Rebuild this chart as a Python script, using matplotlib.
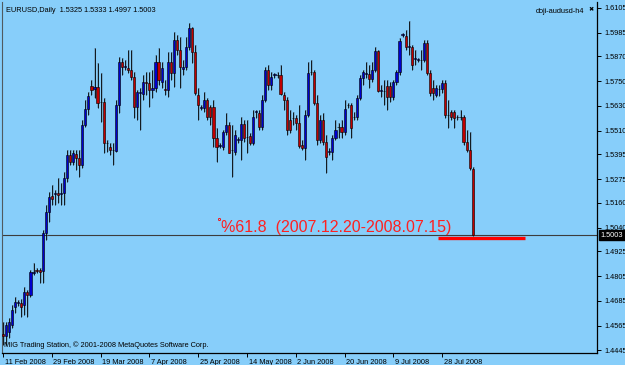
import matplotlib
matplotlib.use("Agg")
import matplotlib.pyplot as plt
import matplotlib.transforms as mtrans
import numpy as np

# daily EURUSD bars, 11 Feb 2008 .. 8 Aug 2008 (broker feed with Sunday bars)
opens = [
    1.4525, 1.4515, 1.4534, 1.4568, 1.4655, 1.4674, 1.4674, 1.4665, 1.4728, 1.4714,
    1.4820, 1.4835, 1.4835, 1.4830, 1.5014, 1.5116, 1.5193, 1.5203, 1.5208, 1.5203,
    1.5208, 1.5281, 1.5392, 1.5358, 1.5397, 1.5378, 1.5344, 1.5538, 1.5615, 1.5727,
    1.5712, 1.5722, 1.5649, 1.5649, 1.5450, 1.5431, 1.5416, 1.5412, 1.5635, 1.5843,
    1.5819, 1.5814, 1.5804, 1.5771, 1.5625, 1.5693, 1.5688, 1.5746, 1.5742, 1.5707,
    1.5717, 1.5843, 1.5746, 1.5712, 1.5707, 1.5843, 1.5790, 1.5950, 1.5902, 1.5809,
    1.5819, 1.5916, 1.6008, 1.5892, 1.5683, 1.5620, 1.5620, 1.5659, 1.5625, 1.5625,
    1.5475, 1.5436, 1.5431, 1.5504, 1.5538, 1.5416, 1.5407, 1.5465, 1.5465, 1.5543,
    1.5480, 1.5484, 1.5450, 1.5601, 1.5596, 1.5528, 1.5659, 1.5804, 1.5732, 1.5780,
    1.5780, 1.5780, 1.5683, 1.5659, 1.5562, 1.5572, 1.5572, 1.5547, 1.5441, 1.5426,
    1.5586, 1.5795, 1.5795, 1.5644, 1.5465, 1.5562, 1.5455, 1.5407, 1.5407, 1.5475,
    1.5528, 1.5528, 1.5504, 1.5635, 1.5635, 1.5576, 1.5576, 1.5669, 1.5766, 1.5785,
    1.5785, 1.5761, 1.5804, 1.5897, 1.5703, 1.5703, 1.5727, 1.5727, 1.5674, 1.5746,
    1.5795, 1.5974, 1.5969, 1.5916, 1.5916, 1.5858, 1.5853, 1.5853, 1.5853, 1.5935,
    1.5790, 1.5717, 1.5683, 1.5712, 1.5712, 1.5742, 1.5586, 1.5601, 1.5601, 1.5576,
    1.5576, 1.5576, 1.5455, 1.5416, 1.5325,
]
highs = [
    1.4582, 1.4582, 1.4602, 1.4665, 1.4704, 1.4689, 1.4694, 1.4752, 1.4738, 1.4835,
    1.4868, 1.4844, 1.4844, 1.5029, 1.5150, 1.5213, 1.5247, 1.5222, 1.5281, 1.5256,
    1.5310, 1.5416, 1.5416, 1.5416, 1.5416, 1.5416, 1.5562, 1.5659, 1.5698, 1.5756,
    1.5911, 1.5839, 1.5790, 1.5669, 1.5465, 1.5450, 1.5450, 1.5659, 1.5868, 1.5863,
    1.5853, 1.5902, 1.5902, 1.5795, 1.5707, 1.5717, 1.5780, 1.5795, 1.5795, 1.5804,
    1.5877, 1.5911, 1.5843, 1.5756, 1.5892, 1.5892, 1.5989, 1.5974, 1.5965, 1.5853,
    1.5965, 1.6032, 1.6015, 1.5926, 1.5717, 1.5635, 1.5698, 1.5669, 1.5635, 1.5659,
    1.5523, 1.5450, 1.5513, 1.5596, 1.5552, 1.5538, 1.5513, 1.5480, 1.5576, 1.5562,
    1.5562, 1.5499, 1.5610, 1.5610, 1.5610, 1.5683, 1.5819, 1.5829, 1.5795, 1.5790,
    1.5795, 1.5829, 1.5698, 1.5674, 1.5610, 1.5601, 1.5586, 1.5635, 1.5465, 1.5610,
    1.5843, 1.5853, 1.5804, 1.5683, 1.5586, 1.5596, 1.5489, 1.5426, 1.5489, 1.5562,
    1.5547, 1.5562, 1.5659, 1.5644, 1.5644, 1.5601, 1.5683, 1.5780, 1.5804, 1.5843,
    1.5829, 1.5843, 1.5916, 1.5902, 1.5732, 1.5756, 1.5756, 1.5746, 1.5756, 1.5804,
    1.5960, 1.5984, 1.5999, 1.6040, 1.5926, 1.5902, 1.5863, 1.5902, 1.5950, 1.5950,
    1.5804, 1.5756, 1.5732, 1.5732, 1.5756, 1.5756, 1.5659, 1.5610, 1.5610, 1.5586,
    1.5610, 1.5586, 1.5513, 1.5504, 1.5333,
]
lows = [
    1.4471, 1.4471, 1.4505, 1.4553, 1.4626, 1.4660, 1.4607, 1.4617, 1.4607, 1.4704,
    1.4811, 1.4820, 1.4771, 1.4771, 1.4980, 1.5067, 1.5150, 1.5150, 1.5159, 1.5150,
    1.5150, 1.5261, 1.5344, 1.5344, 1.5319, 1.5286, 1.5329, 1.5528, 1.5586, 1.5683,
    1.5669, 1.5620, 1.5552, 1.5402, 1.5407, 1.5392, 1.5344, 1.5407, 1.5596, 1.5780,
    1.5804, 1.5790, 1.5756, 1.5572, 1.5562, 1.5513, 1.5659, 1.5683, 1.5625, 1.5669,
    1.5698, 1.5732, 1.5717, 1.5683, 1.5674, 1.5756, 1.5722, 1.5877, 1.5717, 1.5780,
    1.5804, 1.5902, 1.5839, 1.5683, 1.5562, 1.5610, 1.5601, 1.5562, 1.5538, 1.5431,
    1.5358, 1.5426, 1.5416, 1.5489, 1.5402, 1.5286, 1.5392, 1.5450, 1.5368, 1.5455,
    1.5402, 1.5441, 1.5441, 1.5572, 1.5513, 1.5513, 1.5649, 1.5707, 1.5707, 1.5766,
    1.5766, 1.5683, 1.5610, 1.5489, 1.5499, 1.5538, 1.5513, 1.5426, 1.5416, 1.5368,
    1.5576, 1.5780, 1.5635, 1.5441, 1.5450, 1.5441, 1.5305, 1.5392, 1.5368, 1.5465,
    1.5475, 1.5475, 1.5489, 1.5620, 1.5475, 1.5562, 1.5562, 1.5659, 1.5732, 1.5766,
    1.5717, 1.5746, 1.5795, 1.5698, 1.5674, 1.5635, 1.5610, 1.5649, 1.5659, 1.5732,
    1.5780, 1.5965, 1.5902, 1.5877, 1.5804, 1.5829, 1.5843, 1.5804, 1.5843, 1.5780,
    1.5678, 1.5659, 1.5674, 1.5678, 1.5693, 1.5572, 1.5523, 1.5562, 1.5523, 1.5562,
    1.5562, 1.5441, 1.5407, 1.5319, 1.4997,
]
closes = [
    1.4515, 1.4568, 1.4582, 1.4641, 1.4679, 1.4679, 1.4655, 1.4728, 1.4714, 1.4825,
    1.4825, 1.4830, 1.4825, 1.5014, 1.5116, 1.5188, 1.5179, 1.5208, 1.5198, 1.5208,
    1.5281, 1.5392, 1.5358, 1.5402, 1.5378, 1.5344, 1.5538, 1.5615, 1.5678, 1.5707,
    1.5722, 1.5644, 1.5649, 1.5450, 1.5450, 1.5416, 1.5418, 1.5635, 1.5843, 1.5819,
    1.5824, 1.5804, 1.5771, 1.5625, 1.5698, 1.5693, 1.5746, 1.5742, 1.5707, 1.5717,
    1.5843, 1.5756, 1.5814, 1.5707, 1.5843, 1.5790, 1.5950, 1.5902, 1.5819, 1.5819,
    1.5916, 1.6008, 1.5892, 1.5693, 1.5635, 1.5620, 1.5659, 1.5576, 1.5576, 1.5475,
    1.5431, 1.5436, 1.5504, 1.5538, 1.5402, 1.5418, 1.5489, 1.5467, 1.5543, 1.5475,
    1.5478, 1.5450, 1.5576, 1.5601, 1.5528, 1.5659, 1.5804, 1.5732, 1.5771, 1.5782,
    1.5778, 1.5688, 1.5659, 1.5513, 1.5513, 1.5570, 1.5547, 1.5436, 1.5426, 1.5586,
    1.5790, 1.5793, 1.5644, 1.5465, 1.5562, 1.5455, 1.5383, 1.5409, 1.5475, 1.5513,
    1.5526, 1.5504, 1.5615, 1.5633, 1.5523, 1.5578, 1.5669, 1.5766, 1.5795, 1.5787,
    1.5761, 1.5804, 1.5897, 1.5703, 1.5705, 1.5701, 1.5674, 1.5674, 1.5746, 1.5795,
    1.5945, 1.5976, 1.5916, 1.5918, 1.5829, 1.5860, 1.5855, 1.5851, 1.5935, 1.5790,
    1.5693, 1.5693, 1.5717, 1.5714, 1.5742, 1.5586, 1.5584, 1.5576, 1.5572, 1.5578,
    1.5574, 1.5455, 1.5416, 1.5329, 1.5003,
]

date_labels = ["11 Feb 2008", "29 Feb 2008", "19 Mar 2008", "7 Apr 2008", "25 Apr 2008",
               "14 May 2008", "2 Jun 2008", "20 Jun 2008", "9 Jul 2008", "28 Jul 2008"]
date_label_bars = [0, 16, 32, 48, 64, 80, 96, 112, 128, 144]
price_ticks = [1.6105, 1.5985, 1.5870, 1.5750, 1.5630, 1.5510, 1.5395, 1.5275, 1.5160,
               1.5040, 1.4925, 1.4805, 1.4685, 1.4565, 1.4445]

fib_level = 1.4990
fib_label = "%61.8  (2007.12.20-2008.07.15)"
fib_anchor = (70.8, 1.5080)
fib_line_bars = (142.5, 171.0)

BG = "#87cefa"
BULL = "#0000cd"
BEAR = "#c00000"
FONT = "Liberation Sans"
SMALL = 5.3

o = np.array(opens)
h = np.array(highs)
l = np.array(lows)
c = np.array(closes)
x = np.arange(len(o))
last = len(o) - 1

fig = plt.figure(figsize=(6.25, 3.65), dpi=100, facecolor=BG)
plt.rcParams["font.family"] = [FONT, "DejaVu Sans"]
ax = fig.add_axes([2 / 625, 12 / 365, 595 / 625, 351 / 365], facecolor=BG)
ax.set_xlim(-0.33, 194.75)
ax.set_ylim(1.4432, 1.6134)

top = np.maximum.reduce([h, o, c])
bot = np.minimum.reduce([l, o, c])

# grey shadow bars behind the candles
ax.vlines(x + 0.3, bot, top, color="#5d7f99", lw=1.4, alpha=0.45, zorder=2)
ax.vlines(x, bot, top, color="black", lw=0.6, zorder=3)

up = c >= o
body_lo = np.minimum(o, c)
body_h = np.maximum(np.abs(c - o), 0.00025)
ax.bar(x[up], body_h[up], bottom=body_lo[up], width=0.7, color=BULL,
       edgecolor="black", linewidth=0.4, zorder=4)
ax.bar(x[~up], body_h[~up], bottom=body_lo[~up], width=0.7, color=BEAR,
       edgecolor="black", linewidth=0.4, zorder=4)

# bid line
ax.axhline(c[last], color="#3c3c3c", lw=0.8, zorder=1)

# fibonacci level mark
ax.hlines(fib_level, fib_line_bars[0], fib_line_bars[1], color="red", lw=2.4, zorder=5)
ax.text(71.6, c[last] + 0.0001, fib_label, color="#ff2020", fontsize=11.5,
        ha="left", va="bottom", zorder=6)
ax.plot(*fib_anchor, marker="o", ms=1.6, mfc="none", mec="red", mew=0.6, zorder=6)

# axes frame like the terminal
ax.spines["top"].set_visible(False)
ax.spines["left"].set_color("#505a60")
ax.spines["left"].set_linewidth(0.8)
ax.spines["right"].set_linewidth(0.9)
ax.spines["bottom"].set_linewidth(0.9)

ax.yaxis.tick_right()
ax.set_yticks(price_ticks)
ax.set_yticklabels([f"{v:.4f}" for v in price_ticks])
ax.tick_params(axis="y", length=3, width=0.7, pad=2, labelsize=SMALL)
ax.set_xticks(date_label_bars)
ax.set_xticklabels(date_labels, ha="left")
ax.tick_params(axis="x", length=3, width=0.7, pad=1.5, labelsize=SMALL)
offset = mtrans.ScaledTranslation(1.5 / 100, 0, fig.dpi_scale_trans)
for lab in ax.get_xticklabels():
    lab.set_transform(lab.get_transform() + offset)

# current price box on the scale
ax.text(1.006, c[last], f"{c[last]:.4f}", transform=ax.get_yaxis_transform(),
        color="white", fontsize=SMALL, ha="left", va="center", zorder=10,
        bbox=dict(boxstyle="square,pad=0.2", fc="black", ec="black"))

# header / footer texts
ax.text(0.006, 0.985, f"EURUSD,Daily  {o[last]:.4f} {h[last]:.4f} {l[last]:.4f} {c[last]:.4f}",
        transform=ax.transAxes, fontsize=SMALL, ha="left", va="top")
ax.text(0.978, 0.982, "doji-audusd-h4", transform=ax.transAxes, fontsize=SMALL,
        ha="right", va="top")
ax.text(0.990, 0.984, "\u2716", transform=ax.transAxes, fontsize=4.5, ha="center",
        va="top", family="DejaVu Sans")
ax.text(0.003, 0.012, "MIG Trading Station, \u00a9 2001-2008 MetaQuotes Software Corp.",
        transform=ax.transAxes, fontsize=SMALL, ha="left", va="bottom")

fig.savefig("out.png", dpi=100, facecolor=BG)
